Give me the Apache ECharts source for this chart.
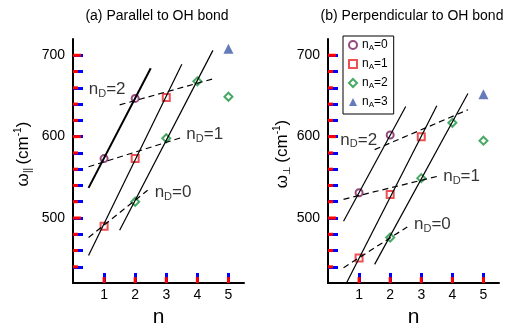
<!DOCTYPE html>
<html>
<head>
<meta charset="utf-8">
<script src="https://cdn.jsdelivr.net/npm/echarts@6/dist/echarts.min.js"></script>
<style>
  html, body { margin: 0; padding: 0; background: #fff; }
  #chart { width: 519px; height: 333px; }
</style>
</head>
<body>
<div id="chart"></div>
<script>
// Vibrational frequencies vs. number of H-bonds n, grouped by acceptor count nA.
// Panel (a): parallel to OH bond; panel (b): perpendicular to OH bond.

const xTicks = [1, 2, 3, 4, 5];
const yTicks = [500, 600, 700];
const yMinorTicks = [440, 460, 480, 520, 540, 560, 580, 620, 640, 660, 680];
const acceptorNames = ['nA=0', 'nA=1', 'nA=2', 'nA=3'];

// (a) parallel, [n, omega]
const parA0 = [[1, 573], [2, 647]];
const parA1 = [[1, 490], [2, 573], [3, 648]];
const parA2 = [[2, 520], [3, 598], [4, 668], [5, 649]];
const parA3 = [[5, 708]];

// (b) perpendicular, [n, omega]
const perA0 = [[1, 531], [2, 602]];
const perA1 = [[1, 451], [2, 529], [3, 600]];
const perA2 = [[2, 476], [3, 549], [4, 617], [5, 595]];
const perA3 = [[5, 652]];

// guide lines (segment end points)
const parSolid = [[[0.5, 537], [2.5, 684]], [[0.5, 454], [3.5, 689]], [[1.5, 485], [4.5, 706]]];
const parDashed = [[[0.5, 476], [2.4, 534]], [[0.5, 563], [3.5, 599]], [[1.5, 639], [4.5, 671]]];
const perSolid = [[[0.5, 496], [2.5, 637]], [[0.5, 413], [3.5, 638]], [[1.5, 443], [4.5, 653]]];
const perDashed = [[[0.5, 439], [2.55, 489]], [[0.5, 523], [3.5, 551]], [[1.5, 584], [4.5, 633]]];

// nD annotations: [n, omega, donor count]
const parDonorLabels = [[0.49, 658, 2], [3.63, 603, 1], [2.61, 531, 0]];
const perDonorLabels = [[0.38, 596, 2], [3.69, 551, 1], [2.75, 492, 0]];

const X_MIN = 0, X_MAX = 5.5, Y_MIN = 420, Y_MAX = 720;
const FONT = '"Liberation Sans", Arial, Helvetica, sans-serif';
const markerStyles = [
  { symbol: 'circle', size: 7, color: '#7a1a5e', filled: false },
  { symbol: 'rect', size: 7, color: '#e8262b', filled: false },
  { symbol: 'diamond', size: 8, color: '#1a9440', filled: false },
  { symbol: 'triangle', size: 10, color: '#3c5aa8', filled: true }
];

const labelRich = {
  m: { fontSize: 17, lineHeight: 20, fontFamily: FONT, color: '#000' },
  s: { fontSize: 11, lineHeight: 11, verticalAlign: 'bottom', fontFamily: FONT, color: '#000' }
};

function scatterSeries(data, k, gi) {
  const st = markerStyles[k];
  return {
    type: 'scatter', name: acceptorNames[k], data: data,
    xAxisIndex: gi, yAxisIndex: gi,
    symbol: st.symbol, symbolSize: st.size,
    itemStyle: {
      color: st.filled ? st.color : 'rgba(255,255,255,0)',
      borderColor: st.color, borderWidth: st.filled ? 0 : 2
    },
    z: 2
  };
}

function lineSeries(seg, gi, dashed, width) {
  return {
    type: 'line', data: seg, xAxisIndex: gi, yAxisIndex: gi,
    symbol: 'none', silent: true, clip: true,
    lineStyle: { color: '#000', width: width, type: dashed ? [6, 4] : 'solid' },
    z: 3
  };
}

function donorLabelSeries(items, gi) {
  return {
    type: 'scatter', xAxisIndex: gi, yAxisIndex: gi,
    symbolSize: 1, itemStyle: { color: 'rgba(0,0,0,0)' }, silent: true,
    data: items.map(d => ({ value: [d[0], d[1]], name: String(d[2]) })),
    label: {
      show: true, position: 'right', distance: 0,
      formatter: p => '{m|n}{s|D}{m|=' + p.name + '}',
      rich: labelRich
    },
    z: 4
  };
}

// inward tick marks, placed through the axis scales: [x, y, length, direction]
function tickSeries(gi) {
  const data = []
    .concat(yTicks.map(v => [X_MIN, v, 8, 0]))
    .concat(yMinorTicks.map(v => [X_MIN, v, 5, 0]))
    .concat(xTicks.map(v => [v, Y_MIN, 6, 1]));
  return {
    type: 'custom', xAxisIndex: gi, yAxisIndex: gi, silent: true, clip: false,
    encode: { x: 0, y: 1 },
    data: data,
    renderItem: (params, api) => {
      const p = api.coord([api.value(0), api.value(1)]);
      const len = api.value(2);
      const vertical = api.value(3) === 1;
      return {
        type: 'line',
        shape: vertical
          ? { x1: p[0], y1: p[1], x2: p[0], y2: p[1] - len }
          : { x1: p[0], y1: p[1], x2: p[0] + len, y2: p[1] },
        style: { stroke: '#f00', lineWidth: 3 }
      };
    },
    z: 6
  };
}

const grids = [
  { left: 73, top: 39, width: 171, height: 257 },
  { left: 328, top: 39, width: 171, height: 257 }
];

function xAxisFor(gi) {
  return {
    type: 'value', gridIndex: gi, min: X_MIN, max: X_MAX,
    name: 'n', nameLocation: 'middle', nameGap: 16,
    nameTextStyle: { fontSize: 21, fontFamily: FONT, color: '#000' },
    axisLine: { show: true, onZero: false, lineStyle: { color: '#000', width: 2 } },
    axisTick: { show: true, inside: true, length: 10, customValues: xTicks, lineStyle: { color: '#00f', width: 3 } },
    axisLabel: { customValues: xTicks, margin: 5, fontSize: 14, fontFamily: FONT, color: '#000' },
    splitLine: { show: false }
  };
}

const yNameRich = {
  w: { fontSize: 17, fontFamily: FONT, color: '#000', lineHeight: 20 },
  s: { fontSize: 10, fontFamily: FONT, color: '#000', lineHeight: 10, verticalAlign: 'bottom' },
  p: { fontSize: 10, fontFamily: FONT, color: '#000', lineHeight: 10, verticalAlign: 'top' }
};

function yAxisFor(gi, title, gap) {
  return {
    type: 'value', gridIndex: gi, min: Y_MIN, max: Y_MAX,
    name: title, nameLocation: 'middle', nameGap: gap, nameRotate: 90,
    nameTextStyle: { rich: yNameRich, padding: [0, 0, 0, 14] },
    axisLine: { show: true, onZero: false, lineStyle: { color: '#000', width: 2 } },
    axisTick: { show: true, inside: true, length: 10, customValues: yMinorTicks.concat(yTicks), lineStyle: { color: '#00f', width: 3 } },
    axisLabel: { customValues: yTicks, margin: 8, fontSize: 14, fontFamily: FONT, color: '#000' },
    splitLine: { show: false }
  };
}

const series = [];
[parA0, parA1, parA2, parA3].forEach((d, k) => series.push(scatterSeries(d, k, 0)));
[perA0, perA1, perA2, perA3].forEach((d, k) => series.push(scatterSeries(d, k, 1)));
parSolid.forEach((s, i) => series.push(lineSeries(s, 0, false, i === 0 ? 2 : 1.2)));
parDashed.forEach(s => series.push(lineSeries(s, 0, true, 1.2)));
perSolid.forEach(s => series.push(lineSeries(s, 1, false, 1.2)));
perDashed.forEach(s => series.push(lineSeries(s, 1, true, 1.2)));
series.push(donorLabelSeries(parDonorLabels, 0));
series.push(donorLabelSeries(perDonorLabels, 1));
series.push(tickSeries(0));
series.push(tickSeries(1));

const chart = echarts.init(document.getElementById('chart'), null, { renderer: 'canvas' });
chart.setOption({
  animation: false,
  backgroundColor: '#fff',
  textStyle: { fontFamily: FONT },
  grid: grids,
  xAxis: [xAxisFor(0), xAxisFor(1)],
  yAxis: [
    yAxisFor(0, '{w|ω}{s|||} {w|(cm}{p|-1}{w|)}', 40),
    yAxisFor(1, '{w|ω}{s|⊥} {w|(cm}{p|-1}{w|)}', 34)
  ],
  legend: {
    data: acceptorNames,
    orient: 'vertical', left: 343, top: 36,
    padding: [3, 6, 5, 5], itemGap: 6, itemWidth: 8, itemHeight: 8,
    borderColor: '#000', borderWidth: 1, backgroundColor: '#fff',
    selectedMode: false,
    formatter: name => '{m|n}{s|A}{m|=' + name.slice(3) + '}',
    textStyle: {
      rich: {
        m: { fontSize: 12, lineHeight: 14, fontFamily: FONT, color: '#000' },
        s: { fontSize: 8, lineHeight: 8, verticalAlign: 'bottom', fontFamily: FONT, color: '#000' }
      }
    }
  },
  graphic: [
    { type: 'text', x: 157, y: 16, style: { text: '(a) Parallel to OH bond', align: 'center', verticalAlign: 'middle', fontSize: 14, fontFamily: FONT, fill: '#000' } },
    { type: 'text', x: 412, y: 16, style: { text: '(b) Perpendicular to OH bond', align: 'center', verticalAlign: 'middle', fontSize: 14, fontFamily: FONT, fill: '#000' } }
  ],
  series: series
});
</script>
</body>
</html>
